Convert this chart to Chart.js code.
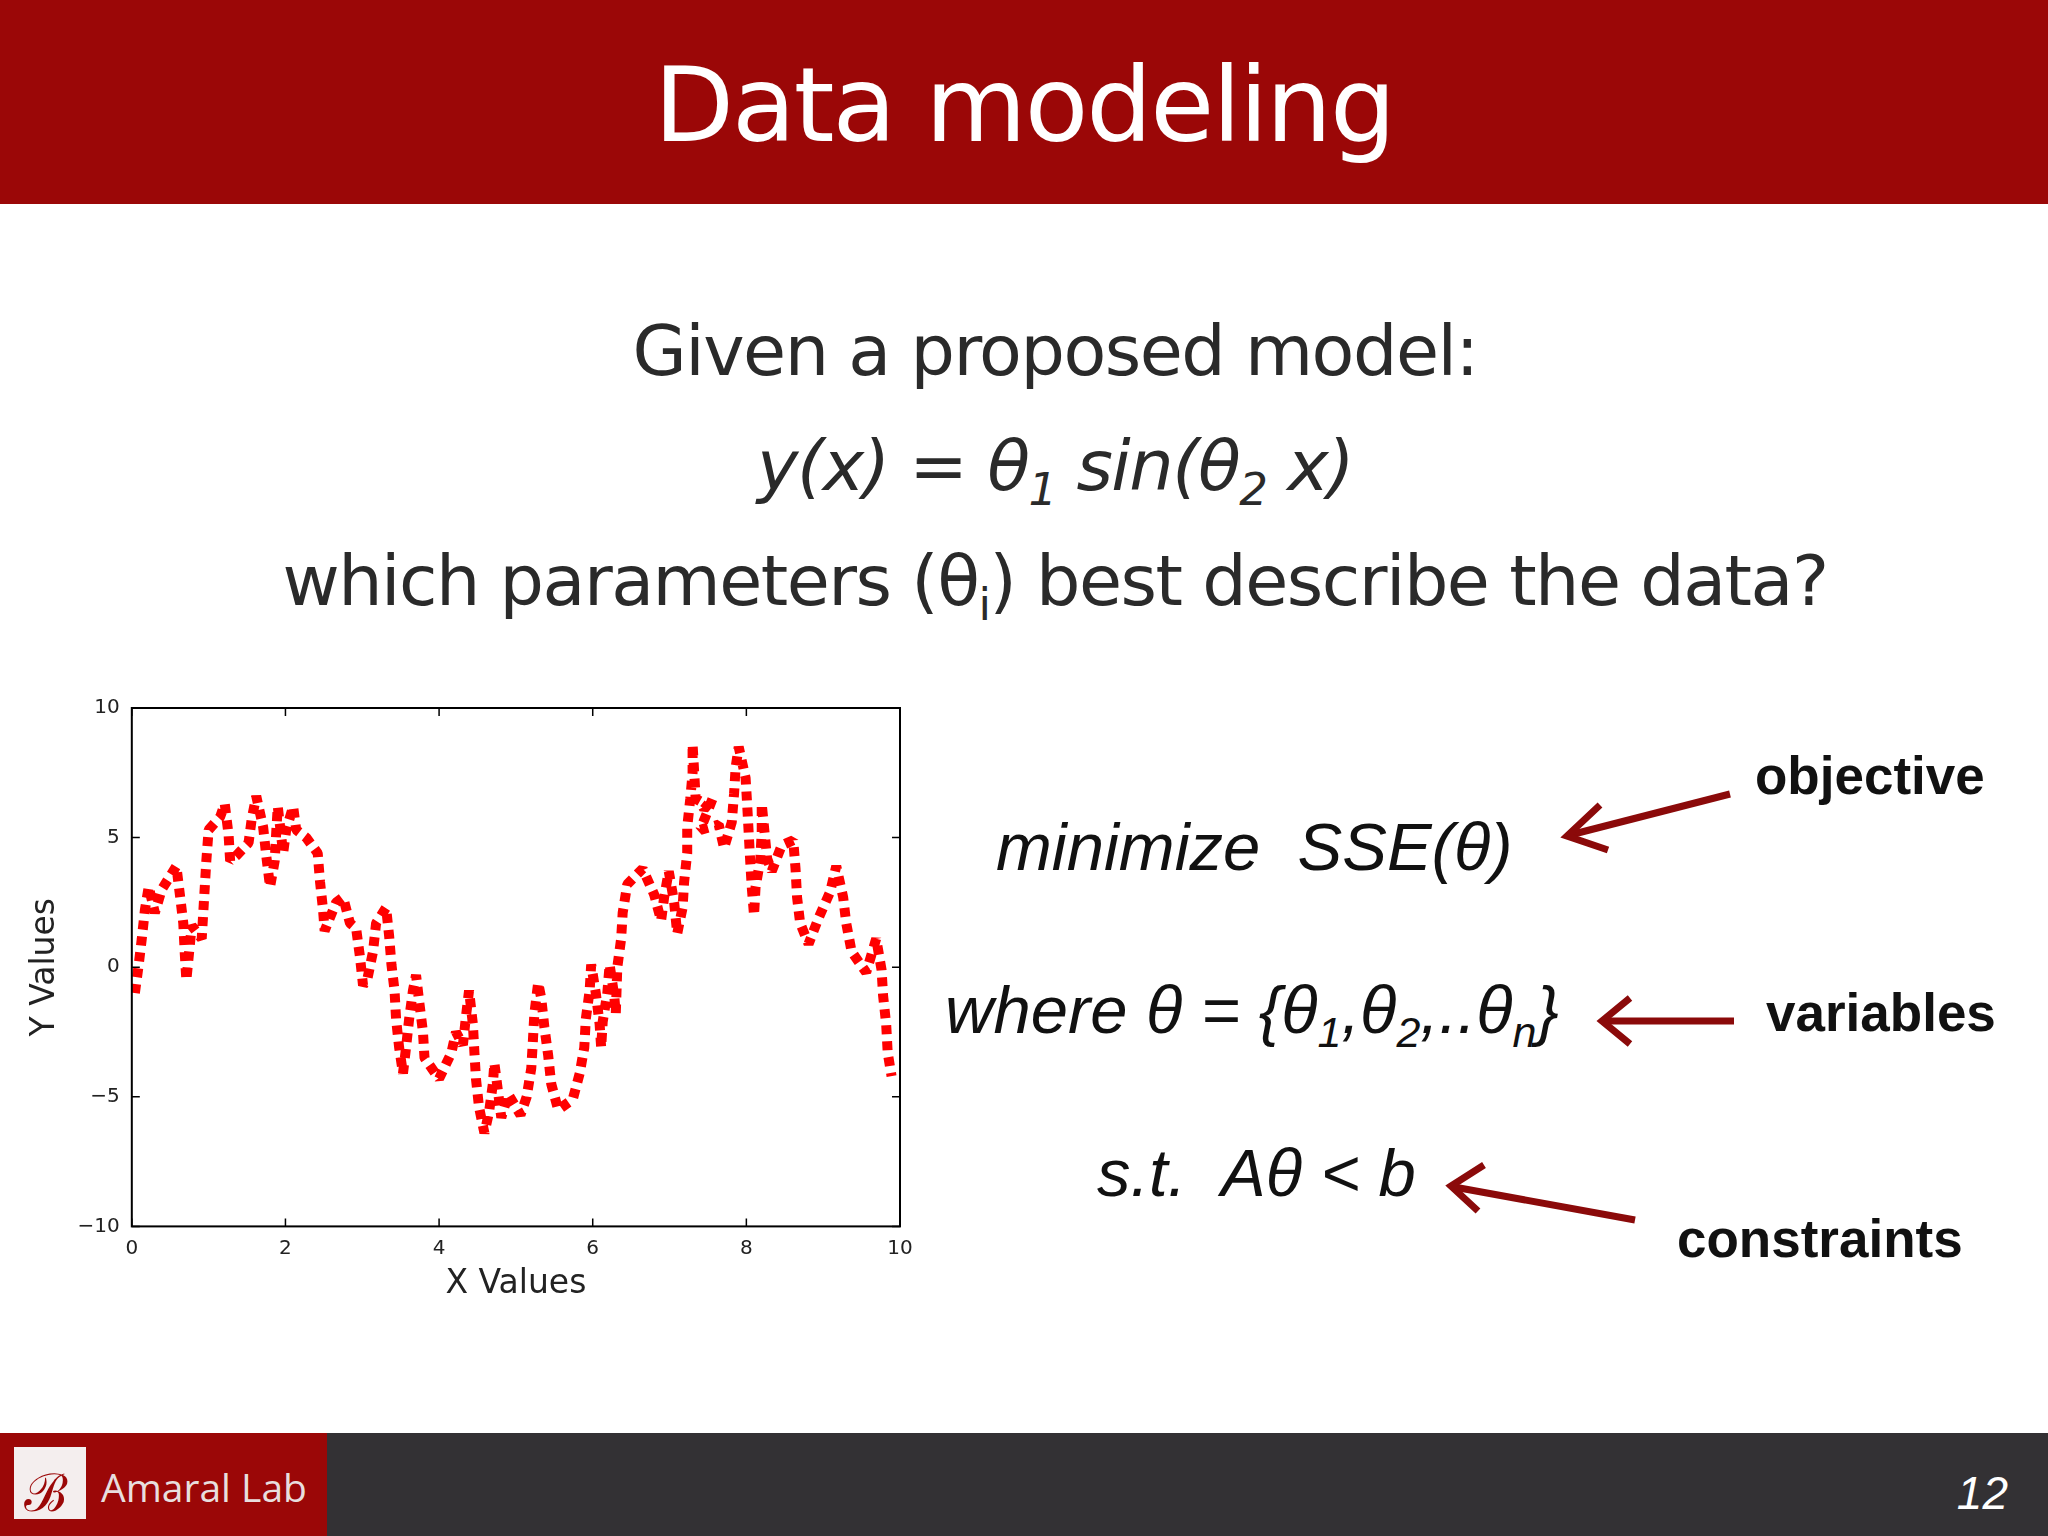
<!DOCTYPE html>
<html>
<head>
<meta charset="utf-8">
<script src="https://cdn.jsdelivr.net/npm/chart.js@4/dist/chart.umd.min.js"></script>
<style>
  body { margin: 0; width: 2048px; height: 1536px; position: relative; background: #fff; overflow: hidden; font-family: "DejaVu Sans", sans-serif; }
  .abs { position: absolute; white-space: nowrap; }
  #header { left: 0; top: 0; width: 2048px; height: 204px; background: #9b0707; }
  #title { left: 0; width: 2048px; top: 44px; text-align: center; color: #fff; font-size: 104px; letter-spacing: -2px; }
  .body { color: #2a2a2a; font-size: 70px; text-align: center; left: 0; width: 2110px; letter-spacing: -1.5px; }
  .eq { font-family: "Liberation Sans", sans-serif; font-style: italic; color: #111; font-size: 67px; }
  .lbl { font-family: "Liberation Sans", sans-serif; font-weight: bold; color: #111; font-size: 53px; }
  #footer { left: 0; top: 1433px; width: 2048px; height: 103px; background: #333134; }
  #logo { left: 0; top: 1433px; width: 327px; height: 103px; background: #9b0707; }
  #chartBox { left: 0; top: 680px; width: 940px; height: 628px; }
</style>
</head>
<body>
<div id="header" class="abs"></div>
<div id="title" class="abs">Data modeling</div>
<div class="abs body" style="top:310px">Given a proposed model:</div>
<div class="abs body" style="top:425px;font-style:italic">y(x) = θ<sub style="font-size:45px">1</sub> sin(θ<sub style="font-size:45px">2</sub> x)</div>
<div class="abs body" style="top:540px">which parameters (θ<sub style="font-size:45px">i</sub>) best describe the data?</div>

<div id="chartBox" class="abs"><canvas id="chart" width="940" height="628"></canvas></div>

<div class="abs eq" style="left:996px;top:808px">minimize&nbsp; SSE(θ)</div>
<div class="abs eq" style="left:945px;top:971px">where θ = {θ<sub style="font-size:43px">1</sub>,θ<sub style="font-size:43px">2</sub>,..θ<sub style="font-size:43px">n</sub>}</div>
<div class="abs eq" style="left:1097px;top:1134px">s.t.&nbsp; Aθ &lt; b</div>
<div class="abs lbl" style="left:1755px;top:745px">objective</div>
<div class="abs lbl" style="left:1766px;top:982px">variables</div>
<div class="abs lbl" style="left:1677px;top:1208px">constraints</div>
<svg class="abs" style="left:0;top:0" width="2048" height="1536">
  <g stroke="#8b0a0a" stroke-width="7" fill="none">
    <line x1="1730" y1="794" x2="1570" y2="835"/>
    <polyline points="1600,805 1567,836 1608,850"/>
    <line x1="1734" y1="1021" x2="1604" y2="1021"/>
    <polyline points="1630,998 1602,1021 1630,1044"/>
    <line x1="1635" y1="1220" x2="1454" y2="1187"/>
    <polyline points="1484,1165 1451,1186 1478,1211"/>
  </g>
</svg>

<div id="footer" class="abs"></div>
<div id="logo" class="abs"></div>
<div class="abs" style="left:14px;top:1447px;width:72px;height:72px;background:#f4eeee;"></div>
<div class="abs" style="left:24px;top:1455px;font-size:52px;color:#9b0707;font-family:'DejaVu Serif'">ℬ</div>
<div class="abs" style="left:101px;top:1460px;font-size:39px;color:#e8dede;font-family:'Open Sans',sans-serif">Amaral Lab</div>
<div class="abs" style="right:40px;top:1466px;font-size:46px;color:#fff;font-style:italic;font-family:'Liberation Sans',sans-serif">12</div>

<script>
const xValues = [0.04,0.09,0.13,0.17,0.22,0.30,0.39,0.58,0.63,0.67,0.69,0.71,0.78,0.91,0.93,0.95,0.97,1.00,1.15,1.21,
  1.26,1.28,1.36,1.52,1.56,1.62,1.71,1.75,1.80,1.86,1.88,1.90,1.97,2.01,2.10,2.14,2.27,2.42,2.45,2.49,
  2.51,2.66,2.75,2.84,2.92,2.97,3.01,3.07,3.14,3.18,3.31,3.35,3.38,3.42,3.44,3.48,3.53,3.57,3.61,3.66,
  3.70,3.74,3.79,3.81,4.00,4.16,4.22,4.31,4.35,4.39,4.44,4.46,4.48,4.52,4.59,4.65,4.70,4.72,4.81,4.90,
  5.06,5.14,5.20,5.22,5.24,5.29,5.33,5.37,5.42,5.46,5.55,5.74,5.83,5.89,5.91,5.96,5.98,6.04,6.09,6.11,
  6.13,6.19,6.22,6.28,6.30,6.32,6.37,6.39,6.45,6.65,6.80,6.89,6.93,6.99,7.06,7.10,7.17,7.19,7.23,7.23,
  7.27,7.30,7.30,7.34,7.40,7.45,7.56,7.40,7.64,7.71,7.81,7.84,7.86,7.90,7.99,8.01,8.03,8.05,8.07,8.10,
  8.12,8.18,8.20,8.20,8.27,8.33,8.46,8.61,8.64,8.66,8.70,8.81,8.94,9.09,9.17,9.26,9.30,9.37,9.56,9.67,
  9.69,9.76,9.78,9.82,9.84,9.89];
const yValues = [-1.0,0.1,1.1,2.2,3.1,2.1,3.0,3.9,2.7,1.7,0.5,-0.5,1.6,1.1,2.1,3.1,4.1,5.3,5.8,6.3,
  5.1,4.1,4.3,4.8,5.7,6.6,5.4,4.3,3.1,4.1,5.2,6.2,4.4,5.3,6.2,5.3,5.0,4.4,3.3,2.2,
  1.4,2.5,2.7,1.7,1.5,0.4,-0.7,-0.4,0.6,1.7,2.3,1.2,0.1,-0.9,-2.0,-3.1,-4.1,-3.1,-2.0,-0.9,
  -0.3,-1.3,-2.5,-3.5,-4.3,-3.3,-2.5,-3.0,-1.9,-0.9,-2.2,-3.3,-4.3,-5.4,-6.4,-5.6,-4.5,-3.7,-5.8,-4.9,
  -5.7,-5.0,-3.9,-2.9,-1.8,-0.6,-1.2,-2.3,-3.4,-4.5,-5.5,-5.1,-4.1,-3.1,-2.0,-0.9,0.1,-1.0,-2.2,-3.1,
  -2.1,-1.0,0.1,-1.1,-1.8,0.0,1.1,2.1,3.2,3.8,2.8,1.8,2.7,3.7,2.5,1.3,2.3,3.3,4.4,5.4,
  6.5,7.5,8.6,6.5,6.4,6.1,6.5,5.3,5.5,4.6,5.6,6.7,7.7,8.5,7.3,6.3,5.2,4.1,3.1,2.0,
  3.1,4.1,5.2,6.3,4.2,3.7,4.7,4.9,3.8,2.7,1.7,0.9,1.9,2.9,3.9,2.7,1.7,0.6,-0.2,0.9,
  1.1,-0.1,-1.1,-2.2,-3.3,-4.2];
const xTicks = [0, 2, 4, 6, 8, 10];
const yTicks = [-10, -5, 0, 5, 10];

const points = xValues.map((x, i) => ({ x: x, y: yValues[i] }));

// box + inward tick marks, matplotlib style
const frame = {
  id: "frame",
  afterDraw(chart) {
    const { ctx, chartArea: a, scales } = chart;
    ctx.save();
    ctx.strokeStyle = "#000";
    ctx.lineWidth = 2;
    ctx.strokeRect(a.left, a.top, a.right - a.left, a.bottom - a.top);
    ctx.lineWidth = 1.5;
    xTicks.forEach(t => {
      const p = scales.x.getPixelForValue(t);
      ctx.beginPath();
      ctx.moveTo(p, a.bottom); ctx.lineTo(p, a.bottom - 8);
      ctx.moveTo(p, a.top); ctx.lineTo(p, a.top + 8);
      ctx.stroke();
    });
    yTicks.forEach(t => {
      const p = scales.y.getPixelForValue(t);
      ctx.beginPath();
      ctx.moveTo(a.left, p); ctx.lineTo(a.left + 8, p);
      ctx.moveTo(a.right, p); ctx.lineTo(a.right - 8, p);
      ctx.stroke();
    });
    ctx.restore();
  }
};

new Chart(document.querySelector("#chart"), {
  type: "scatter",
  data: {
    datasets: [{
      data: points,
      showLine: true,
      borderColor: "#ff0000",
      borderWidth: 10,
      borderDash: [9, 7],
      borderJoinStyle: "bevel",
      pointRadius: 0,
      tension: 0
    }]
  },
  options: {
    responsive: false,
    animation: false,
    devicePixelRatio: 1,
    layout: { padding: { top: 28, right: 40, left: 22, bottom: 0 } },
    plugins: { legend: { display: false }, tooltip: { enabled: false } },
    scales: {
      x: {
        type: "linear", min: 0, max: 10,
        afterBuildTicks: s => { s.ticks = xTicks.map(v => ({ value: v })); },
        grid: { display: false },
        border: { display: false },
        ticks: { color: "#222", font: { family: "DejaVu Sans", size: 20 }, padding: 2 },
        title: { display: true, text: "X Values", color: "#222", font: { family: "DejaVu Sans", size: 33 }, padding: { top: 2 } }
      },
      y: {
        min: -10, max: 10,
        afterBuildTicks: s => { s.ticks = yTicks.map(v => ({ value: v })); },
        grid: { display: false },
        border: { display: false },
        ticks: { color: "#222", font: { family: "DejaVu Sans", size: 20 }, padding: 4, callback: v => String(v).replace("-", "−") },
        title: { display: true, text: "Y Values", color: "#222", font: { family: "DejaVu Sans", size: 33 }, padding: { bottom: 8 } }
      }
    }
  },
  plugins: [frame]
});
</script>
</body>
</html>
